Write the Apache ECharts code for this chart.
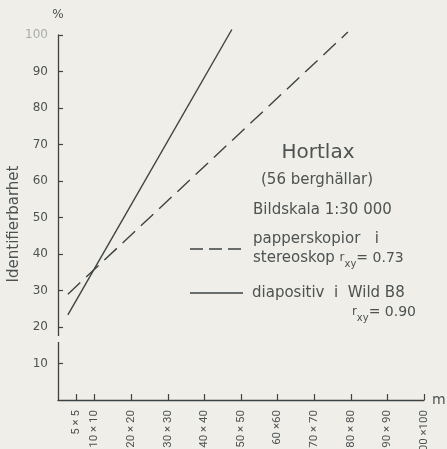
<!DOCTYPE html>
<html>
<head>
<meta charset="utf-8">
<script src="https://cdn.jsdelivr.net/npm/echarts@6/dist/echarts.min.js"></script>
<style>
html,body{margin:0;padding:0;background:#efeee8;}
#c{width:447px;height:449px;}
</style>
</head>
<body>
<div id="c"></div>
<script>
// ---- data ----
const xTickValues = [5, 10, 20, 30, 40, 50, 60, 70, 80, 90, 100];
const xTickLabels = ['5 × 5', '10 × 10', '20 × 20', '30 × 30', '40 × 40', '50 × 50', '60 ×60', '70 × 70', '80 × 80', '90 × 90', '100 ×100'];
const yTickValues = [10, 20, 30, 40, 50, 60, 70, 80, 90, 100];
const solidX = [2.7, 47.5];      // diapositiv i Wild B8
const solidY = [23.3, 101.5];
const dashedX = [2.7, 79.2];     // papperskopior i stereoskop
const dashedY = [29.0, 100.8];

const ink = '#3d4242';
const txt = '#4d5252';
const bg = '#efeee8';
const font = '"DejaVu Sans", sans-serif';
const narrow = 'Roboto, "Liberation Sans", sans-serif';

const chart = echarts.init(document.getElementById('c'), null, {renderer: 'canvas'});
const labelMap = {};
xTickValues.forEach((v, i) => labelMap[v] = xTickLabels[i]);

chart.setOption({
  backgroundColor: bg,
  animation: false,
  grid: {left: 58, right: 23, top: 35, bottom: 49, containLabel: false, outerBoundsMode: 'none'},
  xAxis: {
    type: 'value', min: 0, max: 100,
    name: 'm', nameLocation: 'end', nameGap: 8,
    nameTextStyle: {color: txt, fontFamily: font, fontSize: 14, verticalAlign: 'middle', padding: [0, 0, 4, 0]},
    axisLine: {show: true, lineStyle: {color: ink, width: 1.3}},
    axisTick: {show: true, inside: true, length: 6, customValues: xTickValues, lineStyle: {color: ink, width: 1.2}},
    axisLabel: {
      show: true, rotate: 90, margin: 10, customValues: xTickValues,
      color: txt, fontFamily: narrow, fontSize: 11.5,
      formatter: v => labelMap[v] || ''
    },
    splitLine: {show: false}
  },
  yAxis: {
    type: 'value', min: 0, max: 100,
    name: '%', nameLocation: 'end', nameGap: 14,
    nameTextStyle: {color: txt, fontFamily: font, fontSize: 12, align: 'center'},
    axisLine: {show: true, lineStyle: {color: ink, width: 1.3}},
    axisTick: {show: true, inside: true, length: 5, customValues: yTickValues, lineStyle: {color: ink, width: 1.2}},
    axisLabel: {
      show: true, margin: 10, customValues: yTickValues,
      color: txt, fontFamily: font, fontSize: 12,
      formatter: v => v === 100 ? '{f|100}' : String(v),
      rich: {f: {color: '#a9acaa', fontFamily: font, fontSize: 12}}
    },
    splitLine: {show: false}
  },
  series: [
    {
      type: 'line', name: 'diapositiv i Wild B8', clip: false, symbol: 'none',
      data: solidX.map((x, i) => [x, solidY[i]]),
      lineStyle: {color: ink, width: 1.4, type: 'solid'}
    },
    {
      type: 'line', name: 'papperskopior i stereoskop', clip: false, symbol: 'none',
      data: dashedX.map((x, i) => [x, dashedY[i]]),
      lineStyle: {color: ink, width: 1.4, type: [17, 8]}
    }
  ],
  graphic: [
    {type: 'rect', shape: {x: 54, y: 336, width: 8, height: 6}, style: {fill: bg}, z: 100},
    {type: 'text', x: 14, y: 224, rotation: Math.PI / 2,
      style: {text: 'Identifierbarhet', fill: txt, font: '15px ' + font, textAlign: 'center', textVerticalAlign: 'middle'}},
    {type: 'text', x: 318, y: 153,
      style: {text: 'Hortlax', fill: txt, font: '20px ' + font, textAlign: 'center', textVerticalAlign: 'middle'}},
    {type: 'text', x: 261, y: 180,
      style: {text: '(56 berghällar)', fill: txt, font: '15px ' + font, textAlign: 'left', textVerticalAlign: 'middle'}},
    {type: 'text', x: 253, y: 210,
      style: {text: 'Bildskala 1:30 000', fill: txt, font: '15px ' + font, textAlign: 'left', textVerticalAlign: 'middle'}},
    {type: 'line', shape: {x1: 190, y1: 249, x2: 244, y2: 249},
      style: {stroke: ink, lineWidth: 1.4, lineDash: [13, 6]}},
    {type: 'text', x: 253, y: 239,
      style: {text: 'papperskopior   i', fill: txt, font: '15px ' + font, textAlign: 'left', textVerticalAlign: 'middle'}},
    {type: 'text', x: 253, y: 258,
      style: {
        text: '{n|stereoskop }{r|r}{s|xy}{e|= 0.73}',
        textAlign: 'left', textVerticalAlign: 'middle',
        rich: {
          n: {fill: txt, fontFamily: font, fontSize: 15, verticalAlign: 'middle', lineHeight: 16},
          r: {fill: txt, fontFamily: font, fontSize: 12, verticalAlign: 'middle', lineHeight: 16},
          s: {fill: txt, fontFamily: font, fontSize: 10, verticalAlign: 'bottom', lineHeight: 22},
          e: {fill: txt, fontFamily: font, fontSize: 14, verticalAlign: 'middle', lineHeight: 16}
        }
      }},
    {type: 'line', shape: {x1: 190, y1: 293, x2: 243, y2: 293},
      style: {stroke: ink, lineWidth: 1.4}},
    {type: 'text', x: 252, y: 293,
      style: {text: 'diapositiv  i  Wild B8', fill: txt, font: '15px ' + font, textAlign: 'left', textVerticalAlign: 'middle'}},
    {type: 'text', x: 416, y: 312,
      style: {
        text: '{r|r}{s|xy}{e|= 0.90}',
        textAlign: 'right', textVerticalAlign: 'middle',
        rich: {
          r: {fill: txt, fontFamily: font, fontSize: 12, verticalAlign: 'middle', lineHeight: 16},
          s: {fill: txt, fontFamily: font, fontSize: 10, verticalAlign: 'bottom', lineHeight: 22},
          e: {fill: txt, fontFamily: font, fontSize: 14, verticalAlign: 'middle', lineHeight: 16}
        }
      }}
  ]
});
</script>
</body>
</html>
